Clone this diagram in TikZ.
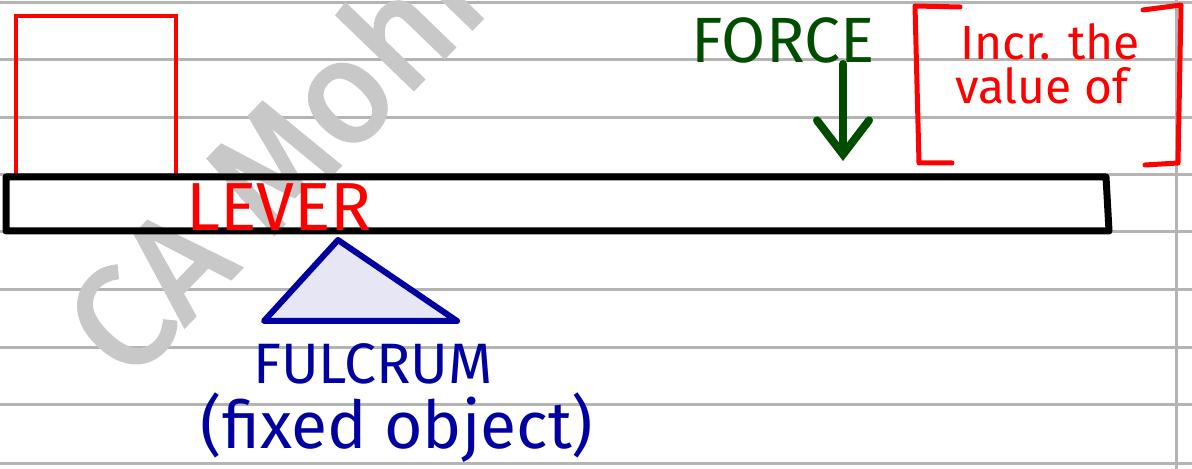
\documentclass[tikz,border=0pt]{standalone}
\usepackage{fontspec}
\setmainfont{Fira Sans}
\newfontfamily\markfont[FakeBold=2.5]{Fira Sans}
\usetikzlibrary{arrows.meta, positioning, calc}
\definecolor{penred}{RGB}{255,0,0}
\definecolor{pengreen}{RGB}{0,77,0}
\definecolor{penblue}{RGB}{0,0,160}
\definecolor{fulfill}{RGB}{230,230,245}
\definecolor{ruled}{RGB}{180,180,180}
\definecolor{wmgray}{RGB}{200,200,200}
\tikzset{
  ruledline/.style={ruled, line width=1.5pt},
  ink/.style={line width=#1, line cap=round, line join=round},
  ink/.default=3.5pt,
  hand/.style={font=\fontsize{#1}{#1}\selectfont, inner sep=0pt},
}

\begin{document}
\begin{tikzpicture}[x=0.5pt, y=-0.5pt]
  \useasboundingbox (0,0) rectangle (1192,469);
  \begin{scope}
    \clip (0,0) rectangle (1192,469);
    % ruled paper
    \foreach \y in {3,60,118,175,232,290,348,405,463}
      \draw[ruledline] (0,\y) -- (1192,\y);
    \draw[ruledline] (1176,0) -- (1176,469);
    % watermark
    \node[wmgray, rotate=46, anchor=base west, inner sep=0pt,
      font=\markfont\fontsize{72}{72}\selectfont] (mark) at (128,385) {CA~Mohnish};
  \end{scope}
  % load on the lever
  \node[draw=penred, line width=2pt, minimum size=80pt, inner sep=0pt,
    anchor=north west] (load) at (14,14) {};
  % lever
  \coordinate (lvtl) at (6,177);
  \coordinate (lvtr) at (1106,177);
  \coordinate (lvbr) at (1109,231);
  \coordinate (lvbl) at (6,231);
  \draw[ink] (lvtl) -- (lvtr) -- (lvbr) -- (lvbl) -- cycle;
  \node[penred, hand=34] (lever) at (279,207) {LEVER};
  % fulcrum
  \coordinate (fctop) at (338,240);
  \coordinate (fcleft) at (264,321);
  \coordinate (fcright) at (457,321);
  \filldraw[fill=fulfill, draw=penblue, ink=3pt] (fctop) -- (fcright) -- (fcleft) -- cycle;
  \node[penblue, hand=28.5] (fulcrum) at (373,364) {FULCRUM};
  \node[penblue, hand=33] (fixed) at (397,428) {(fixed object)};
  % force
  \node[pengreen, hand=32] (force) at (783,40) {FORCE};
  \coordinate (forcetop) at (843,64);
  \coordinate (forcetip) at (843,161);
  \draw[pengreen, ink=4pt, -{Straight Barb[length=17pt, width=26pt, line cap=round]}]
    (forcetop) -- (forcetip);
  % bracket note
  \draw[penred, ink=2.5pt] (960,7) -- (915,6) -- (919,163) -- (952,163);
  \draw[penred, ink=2.5pt] (1143,10) -- (1181,5) -- (1178,163) -- (1145,165);
  \node[penred, hand=24] (incr) at (1050,42) {Incr. the};
  \node[penred, hand=24] (value) at (1042,86) {value of};
\end{tikzpicture}
\end{document}
